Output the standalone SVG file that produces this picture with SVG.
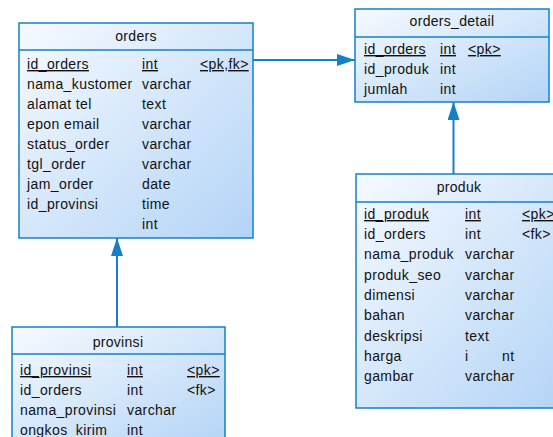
<svg xmlns="http://www.w3.org/2000/svg" width="553" height="437" viewBox="0 0 553 437">
<defs>
<linearGradient id="g" x1="0" y1="0" x2="1" y2="1">
<stop offset="0" stop-color="#f6faff"/>
<stop offset="1" stop-color="#b3d4f6"/>
</linearGradient>
<marker id="ah" markerWidth="18" markerHeight="12" refX="18" refY="6" orient="auto" markerUnits="userSpaceOnUse">
<path d="M0,0 L18,6 L0,12 Z" fill="#1481c6"/>
</marker>
<style>
.box{fill:url(#g);stroke:#1481c6;stroke-width:1.5}
.sep{stroke:#1481c6;stroke-width:1.5}
text{font-family:"Liberation Sans",Arial,sans-serif;font-size:14px;fill:#111;letter-spacing:0.4px}
.t{text-anchor:middle;letter-spacing:0.3px}
.u{text-decoration:underline}
.c{stroke:#1481c6;stroke-width:2;fill:none}
</style>
</defs>
<g id="connectors">
<line class="c" x1="253" y1="60" x2="355" y2="60" marker-end="url(#ah)"/>
<line class="c" x1="453.5" y1="174" x2="453.5" y2="102" marker-end="url(#ah)"/>
<line class="c" x1="117" y1="327" x2="117" y2="238" marker-end="url(#ah)"/>
</g>
<g id="orders">
<rect class="box" x="19" y="23" width="234" height="215"/>
<line class="sep" x1="19" y1="50" x2="253" y2="50"/>
<text class="t" x="136" y="41">orders</text>
<text class="u" x="27" y="69">id_orders</text><text class="u" x="142" y="69">int</text><text class="u" x="200" y="69">&lt;pk,fk&gt;</text>
<text x="27" y="89">nama_kustomer</text><text x="142" y="89">varchar</text>
<text x="27" y="109">alamat tel</text><text x="142" y="109">text</text>
<text x="27" y="129">epon email</text><text x="142" y="129">varchar</text>
<text x="27" y="149">status_order</text><text x="142" y="149">varchar</text>
<text x="27" y="169">tgl_order</text><text x="142" y="169">varchar</text>
<text x="27" y="189">jam_order</text><text x="142" y="189">date</text>
<text x="27" y="209">id_provinsi</text><text x="142" y="209">time</text>
<text x="142" y="229">int</text>
</g>
<g id="orders_detail">
<rect class="box" x="355" y="9" width="194" height="93"/>
<line class="sep" x1="355" y1="37" x2="549" y2="37"/>
<text class="t" x="452" y="26">orders_detail</text>
<text class="u" x="364" y="54">id_orders</text><text class="u" x="440" y="54">int</text><text class="u" x="468" y="54">&lt;pk&gt;</text>
<text x="364" y="74">id_produk</text><text x="440" y="74">int</text>
<text x="364" y="94">jumlah</text><text x="440" y="94">int</text>
</g>
<g id="produk">
<rect class="box" x="356" y="174" width="210" height="234"/>
<line class="sep" x1="356" y1="202" x2="566" y2="202"/>
<text class="t" x="459" y="192">produk</text>
<text class="u" x="364" y="219">id_produk</text><text class="u" x="465" y="219">int</text><text class="u" x="522" y="219">&lt;pk&gt;</text>
<text x="364" y="239">id_orders</text><text x="465" y="239">int</text><text x="522" y="239">&lt;fk&gt;</text>
<text x="364" y="259">nama_produk</text><text x="465" y="259">varchar</text>
<text x="364" y="280">produk_seo</text><text x="465" y="280">varchar</text>
<text x="364" y="300">dimensi</text><text x="465" y="300">varchar</text>
<text x="364" y="320">bahan</text><text x="465" y="320">varchar</text>
<text x="364" y="341">deskripsi</text><text x="465" y="341">text</text>
<text x="364" y="361">harga</text><text x="465" y="361">i<tspan x="502">nt</tspan></text>
<text x="364" y="381">gambar</text><text x="465" y="381">varchar</text>
</g>
<g id="provinsi">
<rect class="box" x="12" y="327" width="213" height="120"/>
<line class="sep" x1="12" y1="354" x2="225" y2="354"/>
<text class="t" x="118" y="347">provinsi</text>
<text class="u" x="20" y="375">id_provinsi</text><text class="u" x="127" y="375">int</text><text class="u" x="187" y="375">&lt;pk&gt;</text>
<text x="20" y="395">id_orders</text><text x="127" y="395">int</text><text x="187" y="395">&lt;fk&gt;</text>
<text x="20" y="415">nama_provinsi</text><text x="127" y="415">varchar</text>
<text x="20" y="435">ongkos_kirim</text><text x="127" y="435">int</text>
</g>
</svg>
